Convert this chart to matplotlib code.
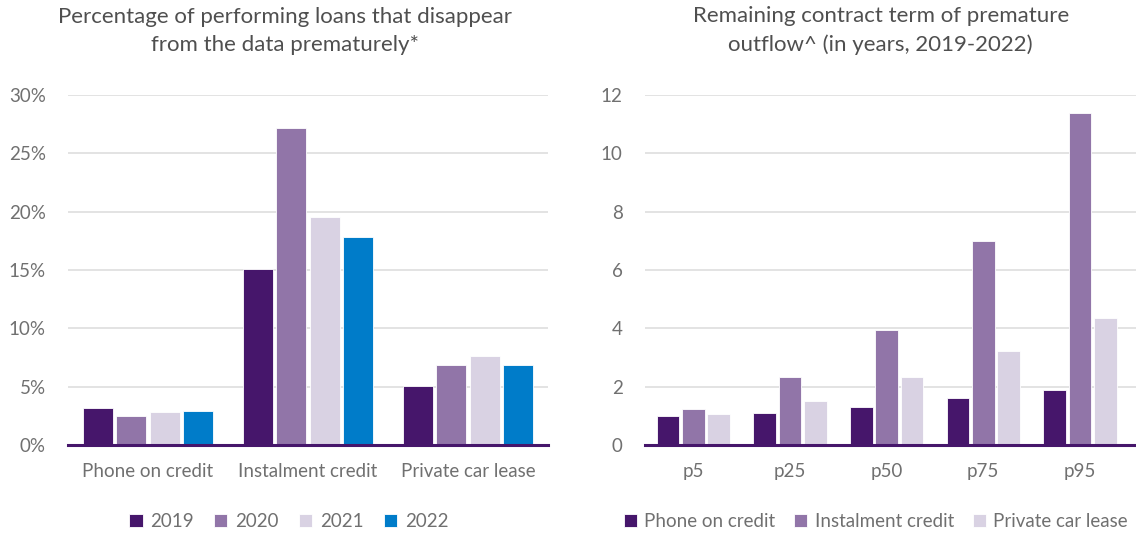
import matplotlib.pyplot as plt
import numpy as np

plt.rcParams['font.family'] = ['Lato', 'DejaVu Sans']

# left panel: share of performing loans that leave the data early
products = ['Phone on credit', 'Instalment credit', 'Private car lease']
years = ['2019', '2020', '2021', '2022']
share_by_year = {
    '2019': [3.2, 15.05, 5.05],
    '2020': [2.5, 27.15, 6.9],
    '2021': [2.85, 19.5, 7.6],
    '2022': [2.9, 17.8, 6.85],
}

# right panel: remaining term (years) at percentiles
percentiles = ['p5', 'p25', 'p50', 'p75', 'p95']
term_by_product = {
    'Phone on credit': [1.0, 1.1, 1.32, 1.6, 1.89],
    'Instalment credit': [1.24, 2.33, 3.95, 6.98, 11.38],
    'Private car lease': [1.05, 1.51, 2.32, 3.22, 4.37],
}

dark = '#46166b'
mid = '#9175a8'
light = '#d9d2e3'
blue = '#007cc9'
year_colors = [dark, mid, light, blue]
product_colors = [dark, mid, light]
text_col = '#4f4f4f'
tick_col = '#707070'
grid_col = '#dedede'

fig = plt.figure(figsize=(11.36, 5.36), dpi=100)
fig.patch.set_facecolor('white')

ax1 = fig.add_axes([68 / 1136, 91 / 536, 480 / 1136, 350 / 536])
ax2 = fig.add_axes([645 / 1136, 91 / 536, 491 / 1136, 350 / 536])


def style(ax):
    ax.set_axisbelow(True)
    ax.yaxis.grid(True, color=grid_col, linewidth=1.2)
    for side in ['top', 'right', 'left']:
        ax.spines[side].set_visible(False)
    ax.spines['bottom'].set_color(dark)
    ax.spines['bottom'].set_linewidth(2.2)
    ax.tick_params(axis='both', length=0, labelsize=13.5, labelcolor=tick_col)
    ax.tick_params(axis='x', pad=13)
    ax.tick_params(axis='y', pad=16)


x = np.arange(len(products))
pitch = 0.208
for i, yr in enumerate(years):
    ax1.bar(x + (i - 1.5) * pitch, share_by_year[yr], width=0.1875,
            color=year_colors[i], edgecolor='white', linewidth=0.6, label=yr)
ax1.set_xlim(-0.5, 2.5)
ax1.set_ylim(0, 30)
ax1.set_yticks(range(0, 31, 5))
ax1.set_yticklabels([f'{v}%' for v in range(0, 31, 5)])
ax1.set_xticks(x)
ax1.set_xticklabels(products)
style(ax1)
ax1.set_title('Percentage of performing loans that disappear\nfrom the data prematurely*',
              fontsize=16, color=text_col, pad=32, linespacing=1.5, x=0.453)
ax1.legend(loc='upper center', bbox_to_anchor=(0.46, -0.145), ncol=4, frameon=False,
           fontsize=13.5, labelcolor=tick_col, handlelength=0.7, handleheight=0.7,
           handletextpad=0.4, columnspacing=1.1)

x2 = np.arange(len(percentiles))
pitch2 = 0.262
for i, prod in enumerate(products):
    ax2.bar(x2 + (i - 1) * pitch2, term_by_product[prod], width=0.234,
            color=product_colors[i], edgecolor='white', linewidth=0.6, label=prod)
ax2.set_xlim(-0.5, 4.58)
ax2.set_ylim(0, 12)
ax2.set_yticks(range(0, 13, 2))
ax2.set_xticks(x2)
ax2.set_xticklabels(percentiles)
style(ax2)
ax2.set_title('Remaining contract term of premature\noutflow^ (in years, 2019-2022)',
              fontsize=16, color=text_col, pad=32, linespacing=1.5, x=0.48)
ax2.legend(loc='upper center', bbox_to_anchor=(0.47, -0.145), ncol=3, frameon=False,
           fontsize=13.5, labelcolor=tick_col, handlelength=0.7, handleheight=0.7,
           handletextpad=0.4, columnspacing=1.0)

fig.savefig('out.png', dpi=100, facecolor='white')
